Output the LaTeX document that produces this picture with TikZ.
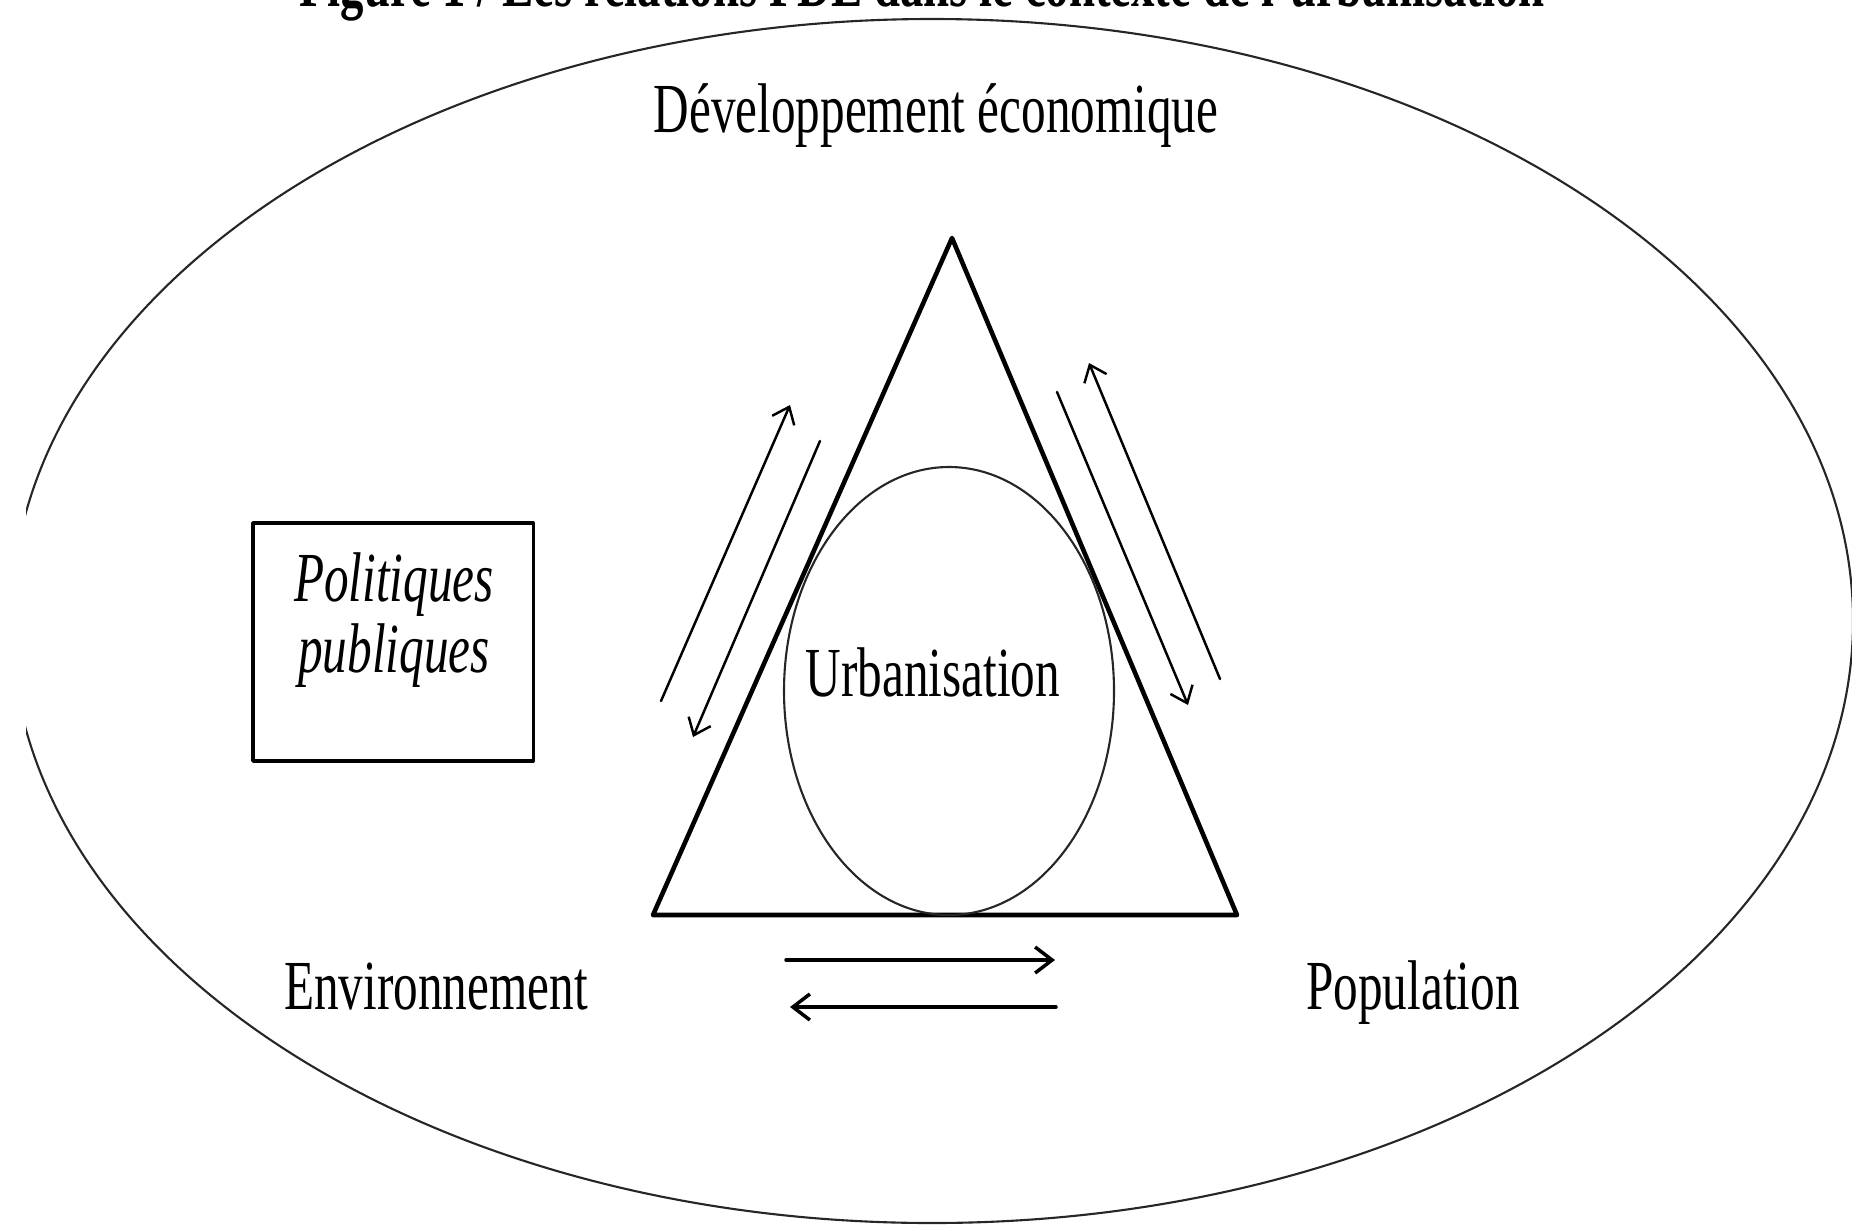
\documentclass[tikz,border=0pt]{standalone}
\usepackage{fontspec}
\setmainfont{Liberation Serif}[FakeStretch=0.7]
\usepackage{tikz}
\usetikzlibrary{arrows.meta}

\begin{document}
\begin{tikzpicture}[x=0.01cm, y=-0.01cm, line cap=round, line join=round]
	\tikzstyle{lbl}=[inner sep=0pt, font=\fontsize{20}{20.2}\selectfont]
	\tikzstyle{cadre}=[draw=black, line width=0.9pt, minimum width=2.8cm, minimum height=2.38cm, inner sep=0pt]
	\tikzstyle{fleche}=[-{Straight Barb[length=0.15cm, width=0.24cm]}, line width=0.7pt]
	\tikzstyle{flechebas}=[-{Straight Barb[length=0.17cm, width=0.26cm]}, line width=1pt]

	\useasboundingbox (0,0) rectangle (1852,1230);

	% Draw title (cut at the top)
	\node[lbl, font=\fontsize{19}{22}\selectfont\bfseries, anchor=base] (titre) at (922,7) {Figure 1 / Les relations PDE dans le contexte de l'urbanisation};

	% Draw outer ellipse
	\begin{scope}
		\clip (26,0) rectangle (1852,1230);
		\draw[line width=0.6pt, black!85] (932,621) ellipse [x radius=921, y radius=602];
	\end{scope}

	% Draw triangle and inner ellipse
	\coordinate (sommet) at (952,238);
	\coordinate (basegauche) at (653,915);
	\coordinate (basedroite) at (1237,915);
	\draw[line width=1.3pt] (sommet) -- (basegauche) -- (basedroite) -- cycle;
	\draw[line width=0.6pt, black!85] (949,691) ellipse [x radius=165, y radius=224];

	% Draw labels
	\node[lbl, anchor=base] (dev) at (936,132) {Développement économique};
	\node[lbl, anchor=base] (urbanisation) at (933,696) {Urbanisation};
	\node[lbl, anchor=base] (environnement) at (436,1009) {Environnement};
	\node[lbl, anchor=base] (population) at (1413,1009) {Population};
	\node[cadre] (boite) at (393,642) {};
	\node[lbl, font=\fontsize{20}{20.2}\selectfont\itshape, align=center] (politiques) at (394,620) {Politiques\\publiques};

	% Draw arrows
	\coordinate (g1) at (661,701);
	\coordinate (g2) at (790,405);
	\coordinate (g3) at (820,441);
	\coordinate (g4) at (693,737);
	\coordinate (d1) at (1057,392);
	\coordinate (d2) at (1188,705);
	\coordinate (d3) at (1220,679);
	\coordinate (d4) at (1089,363);
	\coordinate (b1) at (786,960);
	\coordinate (b2) at (1055,960);
	\coordinate (b3) at (1056,1007);
	\coordinate (b4) at (790,1007);
	\draw[fleche] (g1) -- (g2);
	\draw[fleche] (g3) -- (g4);
	\draw[fleche] (d1) -- (d2);
	\draw[fleche] (d3) -- (d4);
	\draw[flechebas] (b1) -- (b2);
	\draw[flechebas] (b3) -- (b4);

\end{tikzpicture}
\end{document}
